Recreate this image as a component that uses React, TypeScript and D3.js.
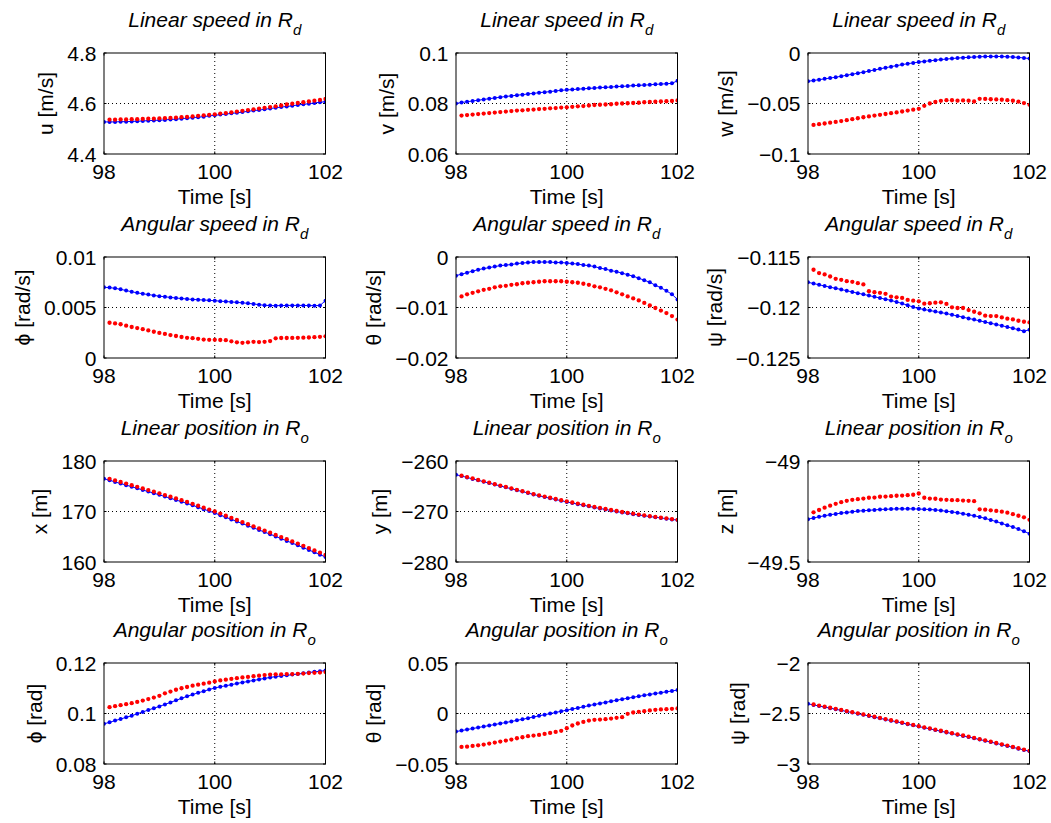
import React from 'react';
import * as d3 from 'd3';

// ---------- time stamps ----------
const T_BLUE = [98.0, 98.1, 98.2, 98.3, 98.4, 98.5, 98.6, 98.7, 98.8, 98.9, 99.0, 99.1, 99.2, 99.3, 99.4, 99.5, 99.6, 99.7, 99.8, 99.9, 100.0, 100.1, 100.2, 100.3, 100.4, 100.5, 100.6, 100.7, 100.8, 100.9, 101.0, 101.1, 101.2, 101.3, 101.4, 101.5, 101.6, 101.7, 101.8, 101.9, 102.0];
const T_RED = [98.1, 98.2, 98.3, 98.4, 98.5, 98.6, 98.7, 98.8, 98.9, 99.0, 99.1, 99.2, 99.3, 99.4, 99.5, 99.6, 99.7, 99.8, 99.9, 100.0, 100.1, 100.2, 100.3, 100.4, 100.5, 100.6, 100.7, 100.8, 100.9, 101.0, 101.1, 101.2, 101.3, 101.4, 101.5, 101.6, 101.7, 101.8, 101.9, 102.0];
const X_TICKS = [98, 100, 102];

// ---------- series (blue = line+dots, red = dots) ----------
const U_BLUE = [4.527, 4.527, 4.527, 4.528, 4.528, 4.529, 4.530, 4.531, 4.532, 4.533, 4.534, 4.535, 4.537, 4.538, 4.540, 4.542, 4.544, 4.546, 4.548, 4.551, 4.553, 4.556, 4.558, 4.561, 4.563, 4.566, 4.569, 4.572, 4.574, 4.577, 4.580, 4.583, 4.586, 4.588, 4.591, 4.594, 4.597, 4.599, 4.602, 4.605, 4.607];
const U_RED = [4.536, 4.536, 4.537, 4.537, 4.538, 4.538, 4.539, 4.540, 4.540, 4.541, 4.542, 4.543, 4.544, 4.546, 4.547, 4.549, 4.551, 4.553, 4.555, 4.557, 4.560, 4.562, 4.565, 4.568, 4.571, 4.574, 4.577, 4.580, 4.583, 4.586, 4.589, 4.592, 4.596, 4.599, 4.602, 4.605, 4.608, 4.611, 4.614, 4.618];

const V_BLUE = [0.0800, 0.0804, 0.0807, 0.0810, 0.0813, 0.0816, 0.0819, 0.0822, 0.0825, 0.0828, 0.0830, 0.0833, 0.0835, 0.0838, 0.0840, 0.0843, 0.0845, 0.0847, 0.0850, 0.0852, 0.0854, 0.0855, 0.0857, 0.0858, 0.0860, 0.0861, 0.0863, 0.0864, 0.0865, 0.0867, 0.0868, 0.0869, 0.0871, 0.0872, 0.0873, 0.0874, 0.0876, 0.0877, 0.0878, 0.0880, 0.0890];
const V_RED = [0.0752, 0.0754, 0.0756, 0.0758, 0.0760, 0.0762, 0.0764, 0.0766, 0.0768, 0.0770, 0.0772, 0.0773, 0.0775, 0.0776, 0.0778, 0.0779, 0.0781, 0.0782, 0.0784, 0.0785, 0.0787, 0.0789, 0.0790, 0.0792, 0.0794, 0.0795, 0.0796, 0.0797, 0.0799, 0.0800, 0.0801, 0.0802, 0.0803, 0.0805, 0.0806, 0.0807, 0.0808, 0.0809, 0.0810, 0.0812];

const W_BLUE = [-0.0280, -0.0272, -0.0264, -0.0256, -0.0248, -0.0240, -0.0230, -0.0220, -0.0210, -0.0200, -0.0190, -0.0179, -0.0168, -0.0157, -0.0146, -0.0135, -0.0125, -0.0115, -0.0106, -0.0098, -0.0090, -0.0083, -0.0077, -0.0071, -0.0065, -0.0060, -0.0055, -0.0050, -0.0046, -0.0043, -0.0040, -0.0037, -0.0035, -0.0034, -0.0034, -0.0035, -0.0037, -0.0040, -0.0044, -0.0049, -0.0055];
const W_RED = [-0.0712, -0.0705, -0.0698, -0.0690, -0.0682, -0.0674, -0.0665, -0.0655, -0.0646, -0.0636, -0.0628, -0.0620, -0.0612, -0.0604, -0.0596, -0.0588, -0.0579, -0.0570, -0.0561, -0.0553, -0.0523, -0.0500, -0.0485, -0.0474, -0.0467, -0.0468, -0.0472, -0.0470, -0.0472, -0.0480, -0.0454, -0.0455, -0.0458, -0.0460, -0.0463, -0.0467, -0.0473, -0.0482, -0.0496, -0.0513];

const P_BLUE = [0.00700, 0.00697, 0.00690, 0.00680, 0.00668, 0.00656, 0.00645, 0.00636, 0.00628, 0.00620, 0.00612, 0.00606, 0.00600, 0.00594, 0.00589, 0.00584, 0.00580, 0.00577, 0.00574, 0.00571, 0.00567, 0.00563, 0.00559, 0.00555, 0.00551, 0.00546, 0.00541, 0.00535, 0.00528, 0.00522, 0.00519, 0.00518, 0.00519, 0.00520, 0.00521, 0.00521, 0.00520, 0.00519, 0.00518, 0.00520, 0.00568];
const P_RED = [0.00349, 0.00342, 0.00334, 0.00320, 0.00307, 0.00296, 0.00285, 0.00273, 0.00260, 0.00248, 0.00238, 0.00227, 0.00218, 0.00208, 0.00200, 0.00196, 0.00190, 0.00182, 0.00180, 0.00180, 0.00178, 0.00176, 0.00165, 0.00155, 0.00150, 0.00155, 0.00160, 0.00158, 0.00160, 0.00168, 0.00195, 0.00198, 0.00198, 0.00199, 0.00200, 0.00201, 0.00203, 0.00206, 0.00210, 0.00215];

const Q_BLUE = [-0.0037, -0.0034, -0.0031, -0.0028, -0.0025, -0.0023, -0.0021, -0.0019, -0.0017, -0.0016, -0.0015, -0.0013, -0.0012, -0.0011, -0.0010, -0.0010, -0.0010, -0.0010, -0.0011, -0.0011, -0.0012, -0.0013, -0.0014, -0.0016, -0.0017, -0.0019, -0.0022, -0.0024, -0.0027, -0.0029, -0.0032, -0.0035, -0.0038, -0.0042, -0.0046, -0.0050, -0.0056, -0.0061, -0.0067, -0.0074, -0.0084];
const Q_RED = [-0.0078, -0.0074, -0.0071, -0.0068, -0.0065, -0.0063, -0.0060, -0.0058, -0.0057, -0.0055, -0.0054, -0.0052, -0.0051, -0.0050, -0.0049, -0.0048, -0.0048, -0.0048, -0.0048, -0.0049, -0.0050, -0.0051, -0.0053, -0.0055, -0.0058, -0.0060, -0.0063, -0.0066, -0.0070, -0.0074, -0.0078, -0.0082, -0.0086, -0.0091, -0.0096, -0.0101, -0.0106, -0.0111, -0.0117, -0.0124];

const R_BLUE = [-0.11750, -0.11763, -0.11775, -0.11787, -0.11799, -0.11810, -0.11822, -0.11834, -0.11846, -0.11858, -0.11870, -0.11882, -0.11894, -0.11906, -0.11918, -0.11930, -0.11945, -0.11960, -0.11978, -0.11996, -0.12010, -0.12020, -0.12030, -0.12040, -0.12050, -0.12060, -0.12072, -0.12084, -0.12096, -0.12108, -0.12120, -0.12132, -0.12144, -0.12156, -0.12168, -0.12180, -0.12193, -0.12206, -0.12219, -0.12235, -0.12220];
const R_RED = [-0.11626, -0.11659, -0.11673, -0.11693, -0.11716, -0.11726, -0.11739, -0.11746, -0.11759, -0.11772, -0.11839, -0.11849, -0.11855, -0.11865, -0.11892, -0.11899, -0.11905, -0.11925, -0.11932, -0.11939, -0.11962, -0.11958, -0.11952, -0.11949, -0.11965, -0.11998, -0.12005, -0.12005, -0.12025, -0.12042, -0.12058, -0.12081, -0.12085, -0.12085, -0.12098, -0.12111, -0.12118, -0.12131, -0.12141, -0.12148];

const X_BLUE = [176.50, 176.18, 175.86, 175.54, 175.22, 174.90, 174.58, 174.26, 173.94, 173.62, 173.30, 172.96, 172.62, 172.28, 171.94, 171.60, 171.22, 170.84, 170.46, 170.08, 169.70, 169.28, 168.86, 168.44, 168.02, 167.60, 167.18, 166.76, 166.34, 165.92, 165.50, 165.06, 164.62, 164.18, 163.74, 163.30, 162.84, 162.38, 161.92, 161.46, 161.00];
const X_RED = [176.48, 176.16, 175.84, 175.52, 175.20, 174.88, 174.56, 174.24, 173.92, 173.60, 173.26, 172.92, 172.58, 172.24, 171.90, 171.52, 171.14, 170.76, 170.38, 170.00, 169.58, 169.16, 168.74, 168.32, 167.90, 167.48, 167.06, 166.64, 166.22, 165.80, 165.37, 164.94, 164.51, 164.08, 163.65, 163.20, 162.75, 162.30, 161.85, 161.40];

const Y_BLUE = [-262.70, -262.98, -263.26, -263.54, -263.82, -264.10, -264.38, -264.66, -264.94, -265.22, -265.50, -265.78, -266.06, -266.34, -266.62, -266.90, -267.14, -267.38, -267.62, -267.86, -268.10, -268.32, -268.54, -268.76, -268.98, -269.20, -269.40, -269.60, -269.80, -270.00, -270.20, -270.36, -270.52, -270.68, -270.84, -271.00, -271.14, -271.28, -271.42, -271.56, -271.70];
const Y_RED = [-262.90, -263.18, -263.46, -263.74, -264.02, -264.30, -264.58, -264.86, -265.14, -265.42, -265.70, -265.98, -266.26, -266.54, -266.80, -267.04, -267.28, -267.52, -267.76, -268.00, -268.22, -268.44, -268.66, -268.88, -269.10, -269.30, -269.50, -269.70, -269.90, -270.10, -270.27, -270.44, -270.60, -270.76, -270.92, -271.07, -271.22, -271.36, -271.50, -271.65];

const Z_BLUE = [-49.288, -49.282, -49.276, -49.271, -49.266, -49.262, -49.258, -49.255, -49.251, -49.248, -49.246, -49.244, -49.242, -49.240, -49.239, -49.238, -49.237, -49.237, -49.237, -49.237, -49.238, -49.239, -49.240, -49.242, -49.245, -49.249, -49.252, -49.256, -49.261, -49.266, -49.271, -49.277, -49.284, -49.292, -49.300, -49.309, -49.318, -49.327, -49.337, -49.348, -49.360];
const Z_RED = [-49.254, -49.2425, -49.231, -49.221, -49.212, -49.204, -49.197, -49.192, -49.189, -49.186, -49.182, -49.181, -49.177, -49.176, -49.174, -49.172, -49.171, -49.169, -49.167, -49.161, -49.182, -49.186, -49.187, -49.191, -49.192, -49.194, -49.194, -49.196, -49.197, -49.199, -49.239, -49.241, -49.244, -49.247, -49.251, -49.256, -49.263, -49.271, -49.279, -49.291];

const PHI_BLUE = [0.0959, 0.0965, 0.0972, 0.0978, 0.0985, 0.0991, 0.0999, 0.1006, 0.1014, 0.1021, 0.1028, 0.1036, 0.1044, 0.1052, 0.1060, 0.1068, 0.1075, 0.1082, 0.1088, 0.1095, 0.1101, 0.1106, 0.1110, 0.1114, 0.1119, 0.1123, 0.1127, 0.1131, 0.1135, 0.1139, 0.1143, 0.1146, 0.1149, 0.1151, 0.1154, 0.1156, 0.1159, 0.1162, 0.1165, 0.1167, 0.1170];
const PHI_RED = [0.1025, 0.1029, 0.1033, 0.1037, 0.1041, 0.1046, 0.1051, 0.1057, 0.1063, 0.1070, 0.1080, 0.1087, 0.1094, 0.1100, 0.1105, 0.1110, 0.1114, 0.1118, 0.1122, 0.1127, 0.1131, 0.1134, 0.1137, 0.1140, 0.1143, 0.1145, 0.1148, 0.1150, 0.1152, 0.1154, 0.1155, 0.1155, 0.1156, 0.1156, 0.1157, 0.1158, 0.1160, 0.1161, 0.1162, 0.1164];

const THETA_BLUE = [-0.0179, -0.0169, -0.0159, -0.0149, -0.0139, -0.0129, -0.0119, -0.0109, -0.0099, -0.0089, -0.0079, -0.0068, -0.0057, -0.0046, -0.0034, -0.0023, -0.0012, -0.0001, 0.0010, 0.0022, 0.0033, 0.0044, 0.0055, 0.0066, 0.0078, 0.0089, 0.0100, 0.0110, 0.0121, 0.0131, 0.0142, 0.0151, 0.0161, 0.0170, 0.0180, 0.0189, 0.0198, 0.0206, 0.0215, 0.0223, 0.0232];
const THETA_RED = [-0.0331, -0.0328, -0.0321, -0.0315, -0.0308, -0.0298, -0.0288, -0.0278, -0.0268, -0.0258, -0.0245, -0.0235, -0.0225, -0.0219, -0.0212, -0.0202, -0.0192, -0.0182, -0.0172, -0.0146, -0.0119, -0.0099, -0.0083, -0.0070, -0.0063, -0.0060, -0.0056, -0.0050, -0.0043, -0.0036, -0.0003, 0.0010, 0.0017, 0.0023, 0.0030, 0.0036, 0.0040, 0.0043, 0.0046, 0.0050];

const PSI_BLUE = [-2.404, -2.415, -2.426, -2.436, -2.447, -2.458, -2.469, -2.480, -2.491, -2.502, -2.513, -2.525, -2.536, -2.548, -2.559, -2.571, -2.582, -2.594, -2.606, -2.617, -2.629, -2.641, -2.652, -2.664, -2.675, -2.687, -2.699, -2.710, -2.722, -2.733, -2.745, -2.758, -2.770, -2.783, -2.796, -2.809, -2.822, -2.835, -2.848, -2.861, -2.874];
const PSI_RED = [-2.411, -2.422, -2.432, -2.443, -2.454, -2.465, -2.476, -2.487, -2.498, -2.509, -2.521, -2.532, -2.544, -2.555, -2.567, -2.578, -2.590, -2.602, -2.613, -2.625, -2.637, -2.648, -2.660, -2.671, -2.683, -2.695, -2.706, -2.718, -2.729, -2.741, -2.754, -2.766, -2.779, -2.792, -2.805, -2.818, -2.831, -2.844, -2.857, -2.870];

// ---------- panel descriptions ----------
const TITLES = ['Linear speed in ', 'Angular speed in ', 'Linear position in ', 'Angular position in '];
const SUBS = ['d', 'd', 'o', 'o'];
const Y_LABELS = ['u [m/s]', 'v [m/s]', 'w [m/s]', 'ϕ [rad/s]', 'θ [rad/s]', 'ψ [rad/s]', 'x [m]', 'y [m]', 'z [m]', 'ϕ [rad]', 'θ [rad]', 'ψ [rad]'];
const Y_DOMAINS = [[4.4, 4.8], [0.06, 0.1], [-0.1, 0], [0, 0.01], [-0.02, 0], [-0.125, -0.115], [160, 180], [-280, -260], [-49.5, -49], [0.08, 0.12], [-0.05, 0.05], [-3, -2]];
const Y_TICKS = [[4.4, 4.6, 4.8], [0.06, 0.08, 0.1], [-0.1, -0.05, 0], [0, 0.005, 0.01], [-0.02, -0.01, 0], [-0.125, -0.12, -0.115], [160, 170, 180], [-280, -270, -260], [-49.5, -49], [0.08, 0.1, 0.12], [-0.05, 0, 0.05], [-3, -2.5, -2]];
const BLUES = [U_BLUE, V_BLUE, W_BLUE, P_BLUE, Q_BLUE, R_BLUE, X_BLUE, Y_BLUE, Z_BLUE, PHI_BLUE, THETA_BLUE, PSI_BLUE];
const REDS = [U_RED, V_RED, W_RED, P_RED, Q_RED, R_RED, X_RED, Y_RED, Z_RED, PHI_RED, THETA_RED, PSI_RED];

// ---------- layout ----------
const W = 1051;
const H = 823;
const COL_LEFT = [104, 456, 808];
const ROW_TOP = [53, 257, 461, 663];
const BOX_W = 221.5;
const BOX_H = 101;
const FONT = '"Liberation Sans", Arial, Helvetica, sans-serif';
const FS = 21;

let _ctx: CanvasRenderingContext2D | null = null;
function textW(s: string): number {
  if (!_ctx) {
    const c = document.createElement('canvas');
    _ctx = c.getContext('2d');
  }
  if (!_ctx) return s.length * FS * 0.55;
  _ctx.font = `${FS}px "Liberation Sans", Arial, sans-serif`;
  return _ctx.measureText(s).width;
}

function fmt(v: number): string {
  const s = String(+v.toPrecision(6));
  return s.replace('-', '\u2212');
}

function Panel({ idx }: { idx: number }) {
  const row = Math.floor(idx / 3);
  const col = idx % 3;
  const x0 = COL_LEFT[col];
  const y0 = ROW_TOP[row];
  const xs = d3.scaleLinear().domain([98, 102]).range([x0, x0 + BOX_W]);
  const ys = d3.scaleLinear().domain(Y_DOMAINS[idx]).range([y0 + BOX_H, y0]);
  const blue = BLUES[idx];
  const red = REDS[idx];
  const line = d3.line<number>().x((_, i) => xs(T_BLUE[i])).y((d) => ys(d));
  const yTicks = Y_TICKS[idx];
  const labels = yTicks.map(fmt);
  const maxW = Math.max(...labels.map(textW));
  const tickRight = x0 - 7.5;
  const ylabX = tickRight - maxW - 14;
  const cx = x0 + BOX_W / 2;
  const clipId = `clip${idx}`;
  const dom = Y_DOMAINS[idx];
  return (
    <g>
      <defs>
        <clipPath id={clipId}>
          <rect x={x0} y={y0} width={BOX_W} height={BOX_H} />
        </clipPath>
      </defs>
      {/* grid */}
      {X_TICKS.filter((t) => t > 98 && t < 102).map((t) => (
        <line key={'gx' + t} x1={xs(t)} x2={xs(t)} y1={y0} y2={y0 + BOX_H} stroke="#000" strokeWidth={1} strokeDasharray="1,3" />
      ))}
      {yTicks.filter((t) => t > dom[0] && t < dom[1]).map((t) => (
        <line key={'gy' + t} x1={x0} x2={x0 + BOX_W} y1={ys(t)} y2={ys(t)} stroke="#000" strokeWidth={1} strokeDasharray="1,3" />
      ))}
      {/* ticks */}
      {X_TICKS.map((t) => (
        <g key={'tx' + t}>
          <line x1={xs(t)} x2={xs(t)} y1={y0 + BOX_H} y2={y0 + BOX_H - 2.5} stroke="#000" />
          <line x1={xs(t)} x2={xs(t)} y1={y0} y2={y0 + 2.5} stroke="#000" />
        </g>
      ))}
      {yTicks.map((t) => (
        <g key={'ty' + t}>
          <line x1={x0} x2={x0 + 2.5} y1={ys(t)} y2={ys(t)} stroke="#000" />
          <line x1={x0 + BOX_W} x2={x0 + BOX_W - 2.5} y1={ys(t)} y2={ys(t)} stroke="#000" />
        </g>
      ))}
      {/* data */}
      <g clipPath={`url(#${clipId})`}>
        <path d={line(blue) || ''} fill="none" stroke="#0000ff" strokeWidth={1} />
        {blue.map((v, i) => (
          <circle key={'b' + i} cx={xs(T_BLUE[i])} cy={ys(v)} r={2} fill="#0000ff" />
        ))}
        {red.map((v, i) => (
          <circle key={'r' + i} cx={xs(T_RED[i])} cy={ys(v)} r={2.15} fill="#ff0000" />
        ))}
      </g>
      {/* box */}
      <rect x={x0} y={y0} width={BOX_W} height={BOX_H} fill="none" stroke="#000" strokeWidth={1} />
      {/* tick labels */}
      {X_TICKS.map((t) => (
        <text key={'lx' + t} x={xs(t)} y={y0 + BOX_H + 25} textAnchor="middle" fontSize={FS} fontFamily={FONT}>
          {fmt(t)}
        </text>
      ))}
      {yTicks.map((t, i) => (
        <text key={'ly' + t} x={tickRight} y={ys(t)} dy="0.36em" textAnchor="end" fontSize={FS} fontFamily={FONT}>
          {labels[i]}
        </text>
      ))}
      {/* axis labels */}
      <text x={cx} y={y0 + BOX_H + 50} textAnchor="middle" fontSize={FS} fontFamily={FONT}>
        Time [s]
      </text>
      <text transform={`translate(${ylabX},${y0 + BOX_H / 2}) rotate(-90)`} textAnchor="middle" fontSize={FS} fontFamily={FONT}>
        {Y_LABELS[idx]}
      </text>
      {/* title */}
      <text x={cx} y={y0 - 26} textAnchor="middle" fontSize={FS} fontFamily={FONT} fontStyle="italic">
        {TITLES[row]}R<tspan dy={8} fontSize={15}>{SUBS[row]}</tspan>
      </text>
    </g>
  );
}

export default function App() {
  return (
    <svg width={W} height={H} viewBox={`0 0 ${W} ${H}`} style={{ position: 'absolute', left: 0, top: 0, background: '#fff' }}>
      <rect x={0} y={0} width={W} height={H} fill="#fff" />
      {d3.range(12).map((i) => (
        <Panel key={i} idx={i} />
      ))}
    </svg>
  );
}
